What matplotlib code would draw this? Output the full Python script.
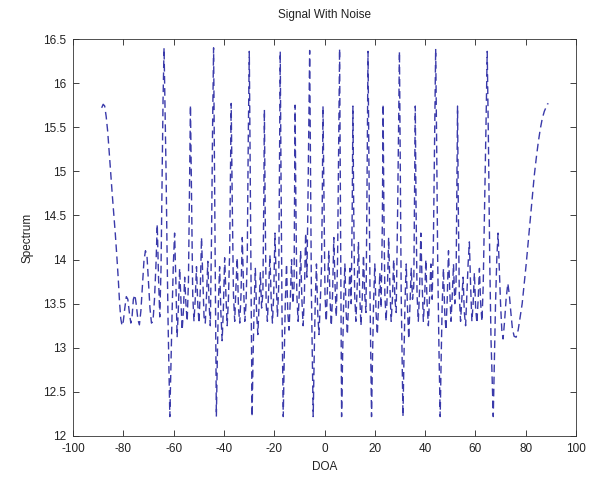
import matplotlib
matplotlib.use('Agg')
import matplotlib.pyplot as plt

# ---- data ----
doa_deg = [
    -88.6, -88.0, -87.4, -86.8, -86.2, -85.6, -85.0, -84.4, -83.8, -83.2,
    -82.6, -82.0, -81.5, -81.0, -80.5, -80.0, -79.4, -78.8, -78.2, -77.6,
    -77.0, -76.5, -76.0, -75.4, -74.8, -74.2, -73.6, -73.0, -72.4, -71.8,
    -71.2, -70.6, -70.0, -69.4, -68.8, -68.2, -67.6, -67.0, -66.5, -66.0,
    -65.5, -65.0, -64.6, -64.2, -63.8, -63.4, -63.0, -62.6, -62.2, -61.8,
    -61.5, -61.1, -60.6, -60.1, -59.6, -59.1, -58.6, -58.1, -57.6, -57.1,
    -56.6, -56.1, -55.6, -55.1, -54.6, -54.1, -53.7, -53.3, -52.9, -52.4,
    -51.9, -51.4, -50.9, -50.4, -49.9, -49.4, -48.9, -48.4, -47.9, -47.4,
    -46.9, -46.4, -45.9, -45.4, -44.9, -44.5, -44.1, -43.7, -43.3, -43.0,
    -42.6, -42.2, -41.7, -41.2, -40.7, -40.2, -39.7, -39.2, -38.7, -38.2,
    -37.7, -37.4, -37.1, -36.7, -36.2, -35.7, -35.2, -34.7, -34.2, -33.7,
    -33.2, -32.7, -32.2, -31.7, -31.2, -30.7, -30.3, -29.9, -29.5, -29.1,
    -28.8, -28.4, -28.0, -27.5, -27.0, -26.5, -26.0, -25.5, -25.0, -24.5,
    -24.1, -23.9, -23.6, -23.2, -22.7, -22.2, -21.7, -21.2, -20.7, -20.2,
    -19.7, -19.2, -18.7, -18.2, -17.9, -17.6, -17.3, -16.9, -16.4, -16.0,
    -15.6, -15.1, -14.6, -14.1, -13.6, -13.1, -12.6, -12.1, -11.9, -11.7,
    -11.4, -11.0, -10.5, -10.0, -9.5, -9.0, -8.5, -8.0, -7.5, -7.0,
    -6.6, -6.2, -5.9, -5.6, -5.2, -4.8, -4.5, -4.1, -3.7, -3.2,
    -2.7, -2.2, -1.7, -1.2, -0.9, -0.6, -0.2, 0.2, 0.7, 1.2,
    1.7, 2.2, 2.7, 3.2, 3.7, 4.2, 4.7, 5.2, 5.6, 6.0,
    6.3, 6.6, 6.8, 7.2, 7.6, 8.1, 8.6, 9.1, 9.6, 10.1,
    10.6, 11.0, 11.3, 11.6, 12.0, 12.5, 13.0, 13.5, 14.0, 14.5,
    15.0, 15.5, 16.0, 16.5, 16.9, 17.3, 17.7, 18.1, 18.4, 18.7,
    19.1, 19.5, 20.0, 20.5, 21.0, 21.5, 22.0, 22.5, 23.0, 23.3,
    23.6, 24.0, 24.5, 25.0, 25.5, 26.0, 26.5, 27.0, 27.5, 28.0,
    28.5, 29.1, 29.5, 29.8, 30.1, 30.5, 30.9, 31.2, 31.6, 32.0,
    32.5, 33.0, 33.5, 34.0, 34.5, 35.0, 35.5, 35.8, 36.1, 36.4,
    36.8, 37.3, 37.8, 38.3, 38.8, 39.3, 39.8, 40.3, 40.8, 41.3,
    41.8, 42.3, 42.8, 43.3, 43.8, 44.2, 44.6, 45.0, 45.5, 46.0,
    46.4, 46.8, 47.3, 47.8, 48.3, 48.8, 49.3, 49.8, 50.3, 50.8,
    51.3, 51.8, 52.3, 52.6, 52.9, 53.2, 53.6, 54.1, 54.6, 55.1,
    55.6, 56.1, 56.6, 57.1, 57.6, 58.1, 58.6, 59.1, 59.6, 60.1,
    60.6, 61.1, 61.6, 62.1, 62.6, 63.1, 63.6, 64.2, 64.7, 65.2,
    65.7, 66.2, 66.7, 67.1, 67.5, 68.0, 68.5, 69.0, 69.5, 70.0,
    70.5, 71.0, 71.6, 72.2, 72.9, 73.5, 74.1, 74.7, 75.4, 76.2,
    77.0, 77.8, 78.6, 79.4, 80.2, 81.0, 81.8, 82.6, 83.4, 84.2,
    85.0, 85.8, 86.6, 87.4, 88.0, 88.6, 89.0,
]

spectrum = [
    15.72, 15.76, 15.74, 15.62, 15.45, 15.22, 14.98, 14.74, 14.52, 14.30,
    14.05, 13.78, 13.52, 13.33, 13.25, 13.30, 13.45, 13.58, 13.55, 13.40,
    13.28, 13.36, 13.55, 13.60, 13.48, 13.32, 13.26, 13.42, 13.70, 13.98,
    14.10, 14.05, 13.75, 13.45, 13.28, 13.30, 13.55, 13.95, 14.40, 13.80,
    13.35, 13.90, 14.90, 15.80, 16.40, 15.70, 15.00, 14.10, 13.30, 12.70,
    12.22, 12.75, 13.40, 13.95, 14.30, 13.75, 13.12, 13.45, 13.90, 13.55,
    13.20, 13.42, 13.80, 13.50, 13.30, 13.75, 14.70, 15.75, 14.80, 13.60,
    13.30, 13.55, 13.92, 13.50, 13.28, 13.65, 14.25, 13.80, 13.35, 13.28,
    13.60, 13.98, 13.50, 13.25, 14.30, 15.50, 16.40, 14.90, 13.40, 12.22,
    12.90, 13.50, 13.92, 13.40, 13.08, 13.45, 14.02, 13.60, 13.25, 13.55,
    14.10, 15.00, 15.77, 14.70, 13.60, 13.30, 13.70, 14.02, 13.45, 13.28,
    13.60, 14.25, 13.70, 13.30, 13.50, 14.05, 15.40, 16.36, 14.90, 13.30,
    12.22, 12.90, 13.45, 13.90, 13.40, 13.15, 13.50, 13.85, 13.45, 13.62,
    14.80, 15.70, 14.60, 13.50, 13.30, 13.65, 14.05, 13.55, 13.28, 13.60,
    14.30, 13.75, 13.35, 13.70, 15.00, 16.36, 15.00, 13.40, 12.22, 12.90,
    13.50, 13.95, 13.40, 13.20, 13.55, 14.00, 13.50, 13.70, 14.80, 15.75,
    14.70, 13.60, 13.30, 13.65, 14.10, 13.55, 13.25, 13.60, 14.30, 13.80,
    14.60, 15.60, 16.37, 15.20, 13.60, 12.80, 12.22, 12.90, 13.50, 13.95,
    13.40, 13.15, 13.50, 13.90, 14.60, 15.74, 14.70, 13.60, 13.30, 13.70,
    14.10, 13.55, 13.25, 13.60, 14.25, 13.70, 13.35, 14.00, 15.20, 16.39,
    14.80, 13.20, 12.22, 12.90, 13.50, 13.95, 13.40, 13.15, 13.55, 13.90,
    13.50, 14.50, 15.74, 14.60, 13.60, 13.30, 13.70, 14.20, 13.60, 13.25,
    13.55, 14.05, 13.60, 13.40, 14.80, 16.36, 15.00, 13.60, 12.90, 12.22,
    12.90, 13.50, 13.95, 13.40, 13.15, 13.50, 13.85, 13.45, 14.40, 15.76,
    14.60, 13.60, 13.30, 13.65, 14.25, 13.70, 13.30, 13.55, 14.00, 13.55,
    13.40, 14.60, 15.60, 16.36, 15.10, 13.60, 12.80, 12.22, 12.90, 13.50,
    13.95, 13.45, 13.10, 13.50, 13.90, 13.55, 13.70, 14.80, 15.74, 14.60,
    13.60, 13.30, 13.65, 14.30, 13.75, 13.30, 13.55, 14.00, 13.50, 13.25,
    13.60, 13.95, 13.55, 14.20, 15.40, 16.39, 15.30, 14.00, 13.00, 12.22,
    12.90, 13.50, 13.90, 13.40, 13.20, 13.55, 14.10, 13.65, 13.30, 13.60,
    13.95, 13.50, 13.70, 14.80, 15.74, 14.60, 13.60, 13.30, 13.55, 13.80,
    13.40, 13.25, 13.60, 13.95, 14.20, 13.70, 13.30, 13.50, 13.85, 13.45,
    13.28, 13.55, 13.90, 13.50, 13.30, 13.70, 14.50, 15.50, 16.36, 15.30,
    14.00, 13.10, 12.60, 12.22, 12.80, 13.50, 14.00, 14.30, 13.90, 13.50,
    13.20, 13.10, 13.30, 13.55, 13.73, 13.60, 13.40, 13.22, 13.13, 13.12,
    13.20, 13.35, 13.50, 13.72, 13.95, 14.20, 14.45, 14.70, 14.95, 15.15,
    15.33, 15.48, 15.60, 15.68, 15.72, 15.76, 15.77,
]

x_ticks = [-100, -80, -60, -40, -20, 0, 20, 40, 60, 80, 100]
x_tick_labels = ['-100', '-80', '-60', '-40', '-20', '0', '20', '40', '60', '80', '100']
y_ticks = [12, 12.5, 13, 13.5, 14, 14.5, 15, 15.5, 16, 16.5]
y_tick_labels = ['12', '12.5', '13', '13.5', '14', '14.5', '15', '15.5', '16', '16.5']

assert len(doa_deg) == len(spectrum), (len(doa_deg), len(spectrum))

plt.rcParams['font.family'] = ['Liberation Sans', 'DejaVu Sans']

W, H = 592, 479
fig = plt.figure(figsize=(W / 100, H / 100), dpi=100)
fig.patch.set_facecolor('white')
ax = fig.add_axes([73 / W, 1 - 436 / H, 503 / W, 397 / H])

ax.plot(doa_deg, spectrum, color='#3a3aaa', linewidth=1.0,
        linestyle=(0, (5.5, 3.2)))

ax.set_xlim(-100, 100)
ax.set_ylim(12, 16.5)
ax.set_xticks(x_ticks)
ax.set_xticklabels(x_tick_labels)
ax.set_yticks(y_ticks)
ax.set_yticklabels(y_tick_labels)
ax.tick_params(direction='in', top=True, right=True, length=4, width=0.6,
               labelsize=8.5, pad=5, colors='#222222')
for s in ax.spines.values():
    s.set_linewidth(0.6)
    s.set_color('#333333')

ax.set_title('Signal With Noise', fontsize=8.5, pad=15, color='#222222')
ax.set_xlabel('DOA', fontsize=8.5, labelpad=4, color='#222222')
ax.set_ylabel('Spectrum', fontsize=8.5, labelpad=7, color='#222222')

fig.savefig('out.png', dpi=100, facecolor='white')
